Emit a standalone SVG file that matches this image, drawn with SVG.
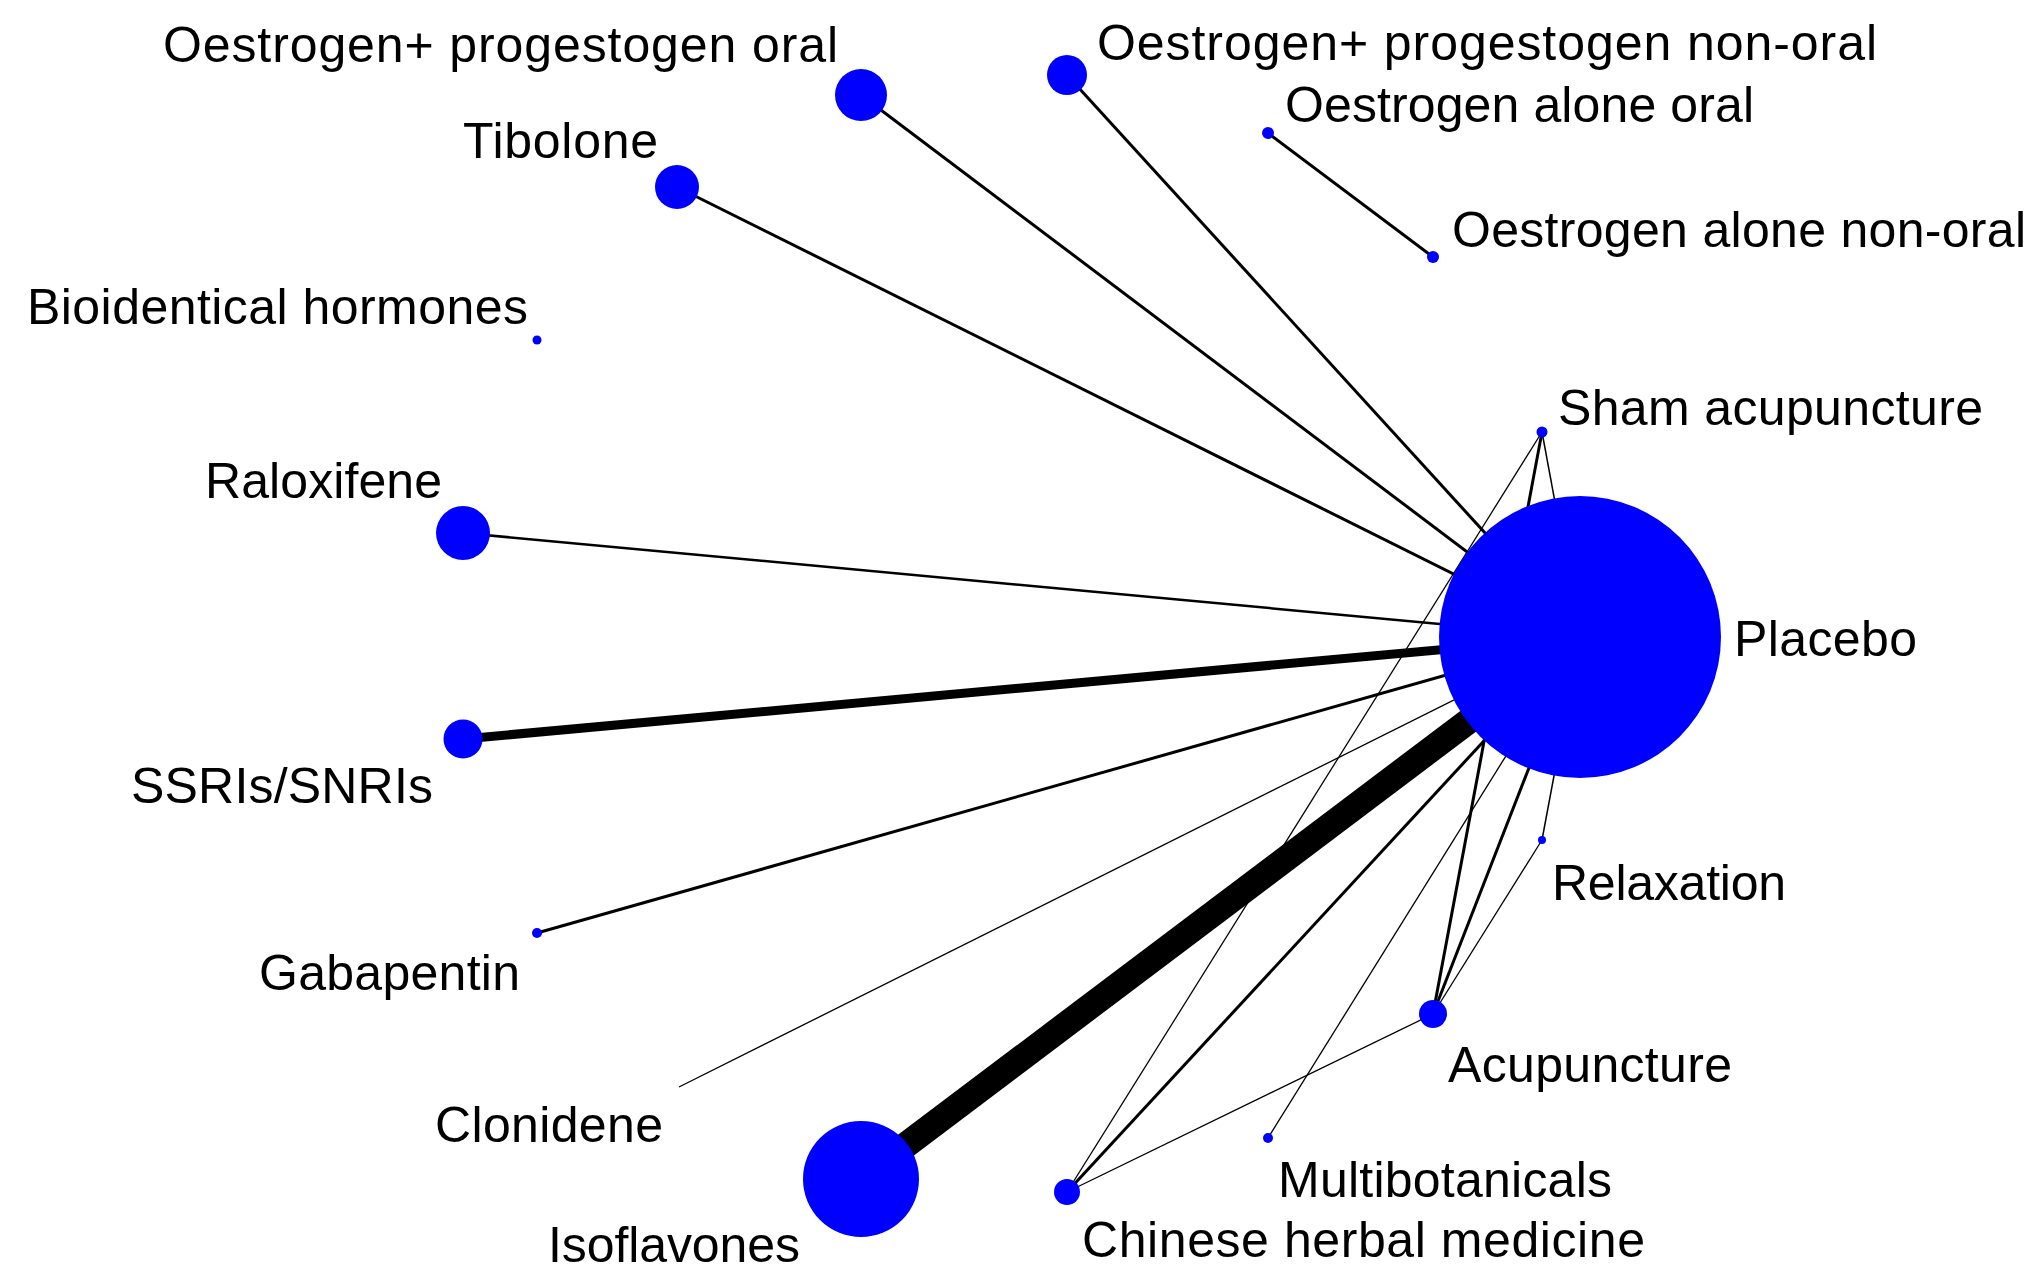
<svg xmlns="http://www.w3.org/2000/svg" width="2034" height="1281" viewBox="0 0 2034 1281">
<style>
.e{stroke:#000;fill:none;stroke-linecap:butt}
.n{fill:#0000FF}
.t{font-family:"Liberation Sans",Arial,sans-serif;font-size:50px;fill:#000}
</style>
<rect width="2034" height="1281" fill="#fff"/>
<g id="connectors">
<line class="e" x1="1580" y1="637" x2="861" y2="95" stroke-width="3"/>
<line class="e" x1="1580" y1="637" x2="1067" y2="75" stroke-width="3"/>
<line class="e" x1="1268" y1="133" x2="1433" y2="257" stroke-width="3"/>
<line class="e" x1="1580" y1="637" x2="677" y2="187" stroke-width="3"/>
<line class="e" x1="1580" y1="637" x2="463" y2="533" stroke-width="2.5"/>
<line class="e" x1="1580" y1="637" x2="463" y2="739" stroke-width="9"/>
<line class="e" x1="1580" y1="637" x2="537" y2="933" stroke-width="3"/>
<line class="e" x1="1580" y1="637" x2="679" y2="1087" stroke-width="1.3"/>
<line class="e" x1="1580" y1="637" x2="861" y2="1179" stroke-width="26"/>
<line class="e" x1="1580" y1="637" x2="1542" y2="432" stroke-width="1.5"/>
<line class="e" x1="1542" y1="432" x2="1433" y2="1014" stroke-width="3"/>
<line class="e" x1="1542" y1="432" x2="1067" y2="1192" stroke-width="1.3"/>
<line class="e" x1="1580" y1="637" x2="1433" y2="1014" stroke-width="3"/>
<line class="e" x1="1580" y1="637" x2="1067" y2="1192" stroke-width="3"/>
<line class="e" x1="1580" y1="637" x2="1268" y2="1138" stroke-width="1.3"/>
<line class="e" x1="1580" y1="637" x2="1542" y2="840" stroke-width="1.5"/>
<line class="e" x1="1542" y1="840" x2="1433" y2="1014" stroke-width="1.3"/>
<line class="e" x1="1433" y1="1014" x2="1067" y2="1192" stroke-width="1.3"/>
</g>
<g id="placebo"><circle class="n" cx="1580" cy="637" r="141"/><text class="t" x="1734" y="656" textLength="183">Placebo</text></g>
<g id="oe-prog-oral"><circle class="n" cx="861" cy="95" r="26"/><text class="t" x="163" y="62" textLength="675">Oestrogen+ progestogen oral</text></g>
<g id="oe-prog-nonoral"><circle class="n" cx="1067" cy="75" r="20"/><text class="t" x="1097" y="60" textLength="780">Oestrogen+ progestogen non-oral</text></g>
<g id="oe-alone-oral"><circle class="n" cx="1268" cy="133" r="6"/><text class="t" x="1285" y="122" textLength="469">Oestrogen alone oral</text></g>
<g id="oe-alone-nonoral"><circle class="n" cx="1433" cy="257" r="6"/><text class="t" x="1452" y="247" textLength="574">Oestrogen alone non-oral</text></g>
<g id="tibolone"><circle class="n" cx="677" cy="187" r="22"/><text class="t" x="463" y="158" textLength="195">Tibolone</text></g>
<g id="bioidentical"><circle class="n" cx="537" cy="340" r="4.5"/><text class="t" x="27" y="324" textLength="501">Bioidentical hormones</text></g>
<g id="sham"><circle class="n" cx="1542" cy="432" r="5.5"/><text class="t" x="1558" y="425" textLength="425">Sham acupuncture</text></g>
<g id="raloxifene"><circle class="n" cx="463" cy="533" r="27"/><text class="t" x="205" y="498" textLength="237">Raloxifene</text></g>
<g id="ssris"><circle class="n" cx="463" cy="739" r="19.5"/><text class="t" x="131" y="803" textLength="302">SSRIs/SNRIs</text></g>
<g id="relaxation"><circle class="n" cx="1542" cy="840" r="4"/><text class="t" x="1552" y="900" textLength="234">Relaxation</text></g>
<g id="gabapentin"><circle class="n" cx="537" cy="933" r="5"/><text class="t" x="259" y="990" textLength="261">Gabapentin</text></g>
<g id="acupuncture"><circle class="n" cx="1433" cy="1014" r="14"/><text class="t" x="1448" y="1082" textLength="284">Acupuncture</text></g>
<g id="clonidene"><text class="t" x="435" y="1142" textLength="228">Clonidene</text></g>
<g id="multibotanicals"><circle class="n" cx="1268" cy="1138" r="5"/><text class="t" x="1278" y="1197" textLength="334">Multibotanicals</text></g>
<g id="isoflavones"><circle class="n" cx="861" cy="1179" r="58"/><text class="t" x="548" y="1262" textLength="252">Isoflavones</text></g>
<g id="chm"><circle class="n" cx="1067" cy="1192" r="13"/><text class="t" x="1082" y="1257" textLength="563">Chinese herbal medicine</text></g>
</svg>
